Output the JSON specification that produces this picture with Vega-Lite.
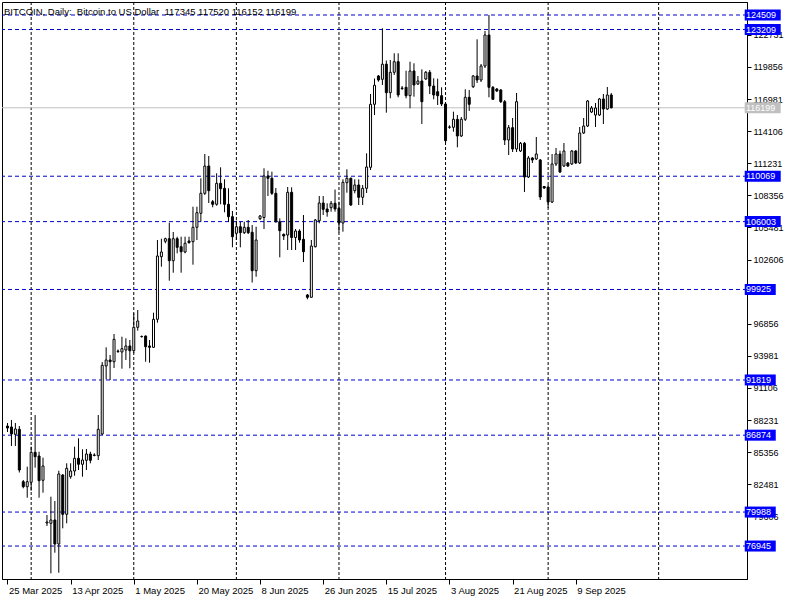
{
"$schema": "https://vega.github.io/schema/vega-lite/v6.json",
"width": 745, "height": 577,
"autosize": {"type": "none"},
"padding": {"left": 2, "top": 2, "right": 53, "bottom": 21},
"background": "white",
"title": {"text": "BITCOIN, Daily:\u00a0 Bitcoin to US Dollar\u00a0 117345 117520 116152 116199", "anchor": "start", "frame": "group", "orient": "top", "offset": -23, "baseline": "alphabetic", "dx": 2, "font": "Liberation Sans", "fontSize": 9.5, "fontWeight": "normal", "color": "black"},
"config": {"view": {"stroke": "black", "strokeWidth": 1}, "font": "Liberation Sans"},
"datasets": {
"months": [{"i": 6}, {"i": 32}, {"i": 58}, {"i": 84}, {"i": 111}, {"i": 137}, {"i": 165}],
"levels": [{"p": 124509}, {"p": 123209}, {"p": 110069}, {"p": 106003}, {"p": 99925}, {"p": 91819}, {"p": 86874}, {"p": 79988}, {"p": 76945}],
"bid": [{"p": 116199}],
"ohlc": [
{"i":0,"d":"2025-03-25","o":87696,"h":87965,"l":87159,"c":87517},
{"i":1,"d":"2025-03-26","o":87607,"h":88234,"l":85905,"c":86980},
{"i":2,"d":"2025-03-27","o":86953,"h":87965,"l":85905,"c":87427},
{"i":3,"d":"2025-03-28","o":87401,"h":87696,"l":83531,"c":83755},
{"i":4,"d":"2025-03-30","o":82707,"h":82859,"l":82116,"c":82259},
{"i":5,"d":"2025-03-31","o":82259,"h":84051,"l":81274,"c":82707},
{"i":6,"d":"2025-04-01","o":82653,"h":85842,"l":81901,"c":85340},
{"i":7,"d":"2025-04-02","o":85340,"h":88681,"l":83961,"c":84946},
{"i":8,"d":"2025-04-03","o":85009,"h":85394,"l":81274,"c":82797},
{"i":9,"d":"2025-04-04","o":82833,"h":84857,"l":81722,"c":84113},
{"i":10,"d":"2025-04-06","o":79008,"h":79724,"l":78739,"c":79097},
{"i":11,"d":"2025-04-07","o":78981,"h":81364,"l":74503,"c":79277},
{"i":12,"d":"2025-04-08","o":79277,"h":80978,"l":76348,"c":77127},
{"i":13,"d":"2025-04-09","o":77127,"h":83692,"l":74556,"c":83397},
{"i":14,"d":"2025-04-10","o":83307,"h":83397,"l":78533,"c":79787},
{"i":15,"d":"2025-04-11","o":79787,"h":84355,"l":78981,"c":83907},
{"i":16,"d":"2025-04-13","o":83155,"h":84355,"l":82976,"c":83666},
{"i":17,"d":"2025-04-14","o":83666,"h":85842,"l":83244,"c":84803},
{"i":18,"d":"2025-04-15","o":84803,"h":86594,"l":83755,"c":84266},
{"i":19,"d":"2025-04-16","o":84266,"h":85609,"l":83155,"c":84651},
{"i":20,"d":"2025-04-17","o":84624,"h":85636,"l":83755,"c":85188},
{"i":21,"d":"2025-04-18","o":85188,"h":85394,"l":84355,"c":84624},
{"i":22,"d":"2025-04-20","o":85054,"h":85251,"l":84982,"c":85099},
{"i":23,"d":"2025-04-21","o":85036,"h":88681,"l":84651,"c":87401},
{"i":24,"d":"2025-04-22","o":86980,"h":93429,"l":86890,"c":93133},
{"i":25,"d":"2025-04-23","o":93070,"h":94745,"l":91879,"c":93608},
{"i":26,"d":"2025-04-24","o":93608,"h":94056,"l":91816,"c":93455},
{"i":27,"d":"2025-04-25","o":93455,"h":95937,"l":92891,"c":95462},
{"i":28,"d":"2025-04-27","o":94369,"h":94548,"l":94235,"c":94414},
{"i":29,"d":"2025-04-28","o":94324,"h":95695,"l":92829,"c":94620},
{"i":30,"d":"2025-04-29","o":94503,"h":95551,"l":93608,"c":94862},
{"i":31,"d":"2025-04-30","o":94862,"h":95399,"l":92864,"c":94441},
{"i":32,"d":"2025-05-01","o":94441,"h":97791,"l":94235,"c":96537},
{"i":33,"d":"2025-05-02","o":96537,"h":98086,"l":96232,"c":97101},
{"i":34,"d":"2025-05-04","o":95695,"h":95803,"l":95623,"c":95713},
{"i":35,"d":"2025-05-05","o":95757,"h":95803,"l":93455,"c":94799},
{"i":36,"d":"2025-05-06","o":94862,"h":95399,"l":93366,"c":94745},
{"i":37,"d":"2025-05-07","o":94745,"h":97844,"l":94683,"c":97253},
{"i":38,"d":"2025-05-08","o":97253,"h":104356,"l":96948,"c":102923},
{"i":39,"d":"2025-05-09","o":102860,"h":104473,"l":101965,"c":103281},
{"i":40,"d":"2025-05-11","o":104239,"h":104562,"l":104061,"c":104473},
{"i":41,"d":"2025-05-12","o":104473,"h":105906,"l":100711,"c":102502},
{"i":42,"d":"2025-05-13","o":102502,"h":105073,"l":101427,"c":104473},
{"i":43,"d":"2025-05-14","o":104473,"h":104652,"l":103165,"c":103702},
{"i":44,"d":"2025-05-15","o":103756,"h":104652,"l":101427,"c":103308},
{"i":45,"d":"2025-05-16","o":103281,"h":104652,"l":103165,"c":104061},
{"i":46,"d":"2025-05-18","o":104267,"h":104652,"l":104043,"c":104114},
{"i":47,"d":"2025-05-19","o":104204,"h":107339,"l":102144,"c":105494},
{"i":48,"d":"2025-05-20","o":105494,"h":107339,"l":104356,"c":106802},
{"i":49,"d":"2025-05-21","o":106748,"h":109883,"l":105995,"c":108539},
{"i":50,"d":"2025-05-22","o":108539,"h":112059,"l":108387,"c":110984},
{"i":51,"d":"2025-05-23","o":110984,"h":111880,"l":107670,"c":108772},
{"i":52,"d":"2025-05-25","o":107787,"h":107939,"l":107285,"c":107554},
{"i":53,"d":"2025-05-26","o":107554,"h":110331,"l":107428,"c":109435},
{"i":54,"d":"2025-05-27","o":109435,"h":110868,"l":107554,"c":108951},
{"i":55,"d":"2025-05-28","o":108987,"h":109793,"l":106837,"c":107554},
{"i":56,"d":"2025-05-29","o":107554,"h":108987,"l":105995,"c":106443},
{"i":57,"d":"2025-05-30","o":106443,"h":106954,"l":103702,"c":104652},
{"i":58,"d":"2025-06-01","o":104956,"h":106085,"l":104356,"c":105547},
{"i":59,"d":"2025-06-02","o":105547,"h":105995,"l":103702,"c":105010},
{"i":60,"d":"2025-06-03","o":105010,"h":105995,"l":104894,"c":105494},
{"i":61,"d":"2025-06-04","o":105494,"h":106148,"l":104894,"c":105010},
{"i":62,"d":"2025-06-05","o":105046,"h":105700,"l":100549,"c":101607},
{"i":63,"d":"2025-06-06","o":101607,"h":105547,"l":101069,"c":104356},
{"i":64,"d":"2025-06-08","o":106264,"h":106595,"l":106148,"c":106506},
{"i":65,"d":"2025-06-09","o":106372,"h":110778,"l":105341,"c":110089},
{"i":66,"d":"2025-06-10","o":110089,"h":110563,"l":108297,"c":109883},
{"i":67,"d":"2025-06-11","o":109883,"h":110474,"l":108387,"c":108539},
{"i":68,"d":"2025-06-12","o":108539,"h":109014,"l":105906,"c":105995},
{"i":69,"d":"2025-06-13","o":105995,"h":106300,"l":102807,"c":105189},
{"i":70,"d":"2025-06-15","o":104867,"h":104938,"l":104356,"c":104714},
{"i":71,"d":"2025-06-16","o":104804,"h":109103,"l":103460,"c":108629},
{"i":72,"d":"2025-06-17","o":108629,"h":109077,"l":103460,"c":104580},
{"i":73,"d":"2025-06-18","o":104580,"h":105341,"l":103460,"c":105162},
{"i":74,"d":"2025-06-19","o":105162,"h":105315,"l":104114,"c":104356},
{"i":75,"d":"2025-06-20","o":104419,"h":106595,"l":102386,"c":103308},
{"i":76,"d":"2025-06-22","o":99430,"h":99519,"l":99045,"c":99224},
{"i":77,"d":"2025-06-23","o":99224,"h":104356,"l":99206,"c":103819},
{"i":78,"d":"2025-06-24","o":103756,"h":106237,"l":103684,"c":106148},
{"i":79,"d":"2025-06-25","o":106085,"h":108297,"l":105852,"c":107670},
{"i":80,"d":"2025-06-26","o":107670,"h":108297,"l":106595,"c":107106},
{"i":81,"d":"2025-06-27","o":107133,"h":107643,"l":106443,"c":106864},
{"i":82,"d":"2025-06-29","o":107249,"h":107849,"l":106891,"c":107643},
{"i":83,"d":"2025-06-30","o":107643,"h":108879,"l":106891,"c":107133},
{"i":84,"d":"2025-07-01","o":107195,"h":107787,"l":105028,"c":105879},
{"i":85,"d":"2025-07-02","o":105879,"h":109793,"l":105100,"c":109524},
{"i":86,"d":"2025-07-03","o":109489,"h":110689,"l":108593,"c":109883},
{"i":87,"d":"2025-07-04","o":109883,"h":109954,"l":107402,"c":107491},
{"i":88,"d":"2025-07-06","o":108772,"h":109793,"l":108539,"c":109283},
{"i":89,"d":"2025-07-07","o":109283,"h":109793,"l":107491,"c":108181},
{"i":90,"d":"2025-07-08","o":108181,"h":109283,"l":107491,"c":108987},
{"i":91,"d":"2025-07-09","o":108987,"h":112122,"l":108566,"c":110895},
{"i":92,"d":"2025-07-10","o":110868,"h":117433,"l":110626,"c":116511},
{"i":93,"d":"2025-07-11","o":116511,"h":118822,"l":115552,"c":118213},
{"i":94,"d":"2025-07-13","o":119046,"h":119135,"l":118535,"c":118687},
{"i":95,"d":"2025-07-14","o":118750,"h":123318,"l":118240,"c":120103},
{"i":96,"d":"2025-07-15","o":120103,"h":120434,"l":115759,"c":117550},
{"i":97,"d":"2025-07-16","o":117550,"h":120479,"l":117048,"c":119377},
{"i":98,"d":"2025-07-17","o":119377,"h":121079,"l":119135,"c":120327},
{"i":99,"d":"2025-07-18","o":120327,"h":121079,"l":117138,"c":117344},
{"i":100,"d":"2025-07-20","o":117926,"h":118150,"l":117792,"c":117971},
{"i":101,"d":"2025-07-21","o":118033,"h":119520,"l":117048,"c":117281},
{"i":102,"d":"2025-07-22","o":117281,"h":120327,"l":116153,"c":119494},
{"i":103,"d":"2025-07-23","o":119494,"h":120183,"l":117192,"c":118240},
{"i":104,"d":"2025-07-24","o":118329,"h":119046,"l":118240,"c":118598},
{"i":105,"d":"2025-07-25","o":118598,"h":119646,"l":114746,"c":116744},
{"i":106,"d":"2025-07-27","o":118777,"h":119494,"l":118687,"c":119377},
{"i":107,"d":"2025-07-28","o":119377,"h":119583,"l":117433,"c":118150},
{"i":108,"d":"2025-07-29","o":118150,"h":118840,"l":116959,"c":117344},
{"i":109,"d":"2025-07-30","o":117639,"h":118804,"l":116448,"c":117281},
{"i":110,"d":"2025-07-31","o":117281,"h":118033,"l":116359,"c":116538},
{"i":111,"d":"2025-08-01","o":116538,"h":116627,"l":113071,"c":113251},
{"i":112,"d":"2025-08-03","o":114451,"h":114630,"l":114325,"c":114478},
{"i":113,"d":"2025-08-04","o":114451,"h":115848,"l":114057,"c":115167},
{"i":114,"d":"2025-08-05","o":115167,"h":115552,"l":112659,"c":113671},
{"i":115,"d":"2025-08-06","o":113671,"h":115373,"l":113582,"c":115167},
{"i":116,"d":"2025-08-07","o":115167,"h":117855,"l":115015,"c":117138},
{"i":117,"d":"2025-08-08","o":117138,"h":117792,"l":115911,"c":116511},
{"i":118,"d":"2025-08-10","o":118087,"h":119135,"l":117971,"c":119046},
{"i":119,"d":"2025-08-11","o":119046,"h":122333,"l":118419,"c":118687},
{"i":120,"d":"2025-08-12","o":118687,"h":120121,"l":118508,"c":119941},
{"i":121,"d":"2025-08-13","o":119941,"h":123076,"l":119762,"c":122718},
{"i":122,"d":"2025-08-14","o":122718,"h":124509,"l":117138,"c":118033},
{"i":123,"d":"2025-08-15","o":118033,"h":118150,"l":116896,"c":116959},
{"i":124,"d":"2025-08-17","o":117881,"h":117971,"l":117613,"c":117702},
{"i":125,"d":"2025-08-18","o":117792,"h":117881,"l":116627,"c":116744},
{"i":126,"d":"2025-08-19","o":116744,"h":116896,"l":112865,"c":113313},
{"i":127,"d":"2025-08-20","o":113313,"h":114657,"l":111970,"c":114415},
{"i":128,"d":"2025-08-21","o":114415,"h":115284,"l":112238,"c":112507},
{"i":129,"d":"2025-08-22","o":112507,"h":117523,"l":112238,"c":116744},
{"i":130,"d":"2025-08-24","o":112328,"h":113134,"l":112238,"c":113018},
{"i":131,"d":"2025-08-25","o":113018,"h":113134,"l":108656,"c":109999},
{"i":132,"d":"2025-08-26","o":109999,"h":111880,"l":109910,"c":111701},
{"i":133,"d":"2025-08-27","o":111701,"h":111791,"l":111253,"c":111522},
{"i":134,"d":"2025-08-28","o":111611,"h":113582,"l":111522,"c":112059},
{"i":135,"d":"2025-08-29","o":111522,"h":111611,"l":107939,"c":108208},
{"i":136,"d":"2025-08-31","o":109148,"h":109193,"l":108924,"c":109014},
{"i":137,"d":"2025-09-01","o":109103,"h":109283,"l":107222,"c":107760},
{"i":138,"d":"2025-09-02","o":107760,"h":112059,"l":107670,"c":111164},
{"i":139,"d":"2025-09-03","o":111164,"h":112597,"l":110984,"c":112059},
{"i":140,"d":"2025-09-04","o":112059,"h":112355,"l":110357,"c":110447},
{"i":141,"d":"2025-09-05","o":110984,"h":113044,"l":110895,"c":112328},
{"i":142,"d":"2025-09-07","o":111253,"h":111343,"l":110895,"c":110984},
{"i":143,"d":"2025-09-08","o":111164,"h":112418,"l":111074,"c":112328},
{"i":144,"d":"2025-09-09","o":112328,"h":112418,"l":111164,"c":111253},
{"i":145,"d":"2025-09-10","o":111253,"h":114478,"l":111164,"c":113940},
{"i":146,"d":"2025-09-11","o":113940,"h":115284,"l":113851,"c":114567},
{"i":147,"d":"2025-09-12","o":114567,"h":116896,"l":114478,"c":116806},
{"i":148,"d":"2025-09-14","o":115821,"h":116359,"l":115732,"c":116179},
{"i":149,"d":"2025-09-15","o":115552,"h":116627,"l":114478,"c":116179},
{"i":150,"d":"2025-09-16","o":115552,"h":117075,"l":115463,"c":116986},
{"i":151,"d":"2025-09-17","o":116986,"h":117433,"l":114746,"c":116090},
{"i":152,"d":"2025-09-18","o":116090,"h":118060,"l":116000,"c":117344},
{"i":153,"d":"2025-09-19","o":117345,"h":117520,"l":116152,"c":116199}
]
},
"layer": [
{"data": {"name": "months"},
 "mark": {"type": "rule", "color": "black", "strokeWidth": 1, "strokeDash": [3, 2]},
 "encoding": {"x": {"field": "i", "type": "quantitative", "title": null,
   "scale": {"domain": [-0.125, 186.125], "nice": false, "zero": false},
   "axis": {"values": [0, 16, 32, 48, 64, 80, 96, 112, 128, 144],
     "labelExpr": "['25 Mar 2025','13 Apr 2025','1 May 2025','20 May 2025','8 Jun 2025','26 Jun 2025','15 Jul 2025','3 Aug 2025','21 Aug 2025','9 Sep 2025'][round(datum.value/16)]",
     "grid": false, "tickSize": 5, "tickColor": "black", "domainColor": "black", "labelColor": "black",
     "labelFont": "Liberation Sans", "labelFontSize": 9.5, "labelAlign": "left", "labelBaseline": "top",
     "labelPadding": 1, "labelOffset": 1, "labelOverlap": false, "labelFlush": false, "labelBound": false, "title": null}}}},
{"data": {"name": "levels"},
 "mark": {"type": "rule", "color": "#0000CD", "strokeWidth": 1, "strokeDash": [4, 3]},
 "encoding": {"y": {"field": "p", "type": "quantitative", "title": null,
   "scale": {"domain": [73992, 125674], "nice": false, "zero": false},
   "axis": {"orient": "right", "values": [122731, 119856, 116981, 114106, 111231, 108356, 105481, 102606, 96856, 93981, 91106, 88231, 85356, 82481, 79606],
     "format": "d", "grid": false, "tickSize": 4, "tickColor": "black", "domainColor": "black", "labelColor": "black",
     "labelFont": "Liberation Sans", "labelFontSize": 9, "labelAlign": "left", "labelBaseline": "middle",
     "labelPadding": 2, "labelOverlap": false, "labelFlush": false, "labelBound": false, "title": null}}}},
{"data": {"name": "bid"},
 "mark": {"type": "rule", "color": "#C0C0C0", "strokeWidth": 1},
 "encoding": {"y": {"field": "p", "type": "quantitative", "title": null}}},
{"data": {"name": "ohlc"},
 "mark": {"type": "rule", "color": "black", "strokeWidth": 1},
 "encoding": {"x": {"field": "i", "type": "quantitative", "title": null},
   "y": {"field": "l", "type": "quantitative", "title": null}, "y2": {"field": "h"}}},
{"data": {"name": "ohlc"},
 "mark": {"type": "bar", "size": 2, "stroke": "black", "strokeWidth": 1},
 "encoding": {"x": {"field": "i", "type": "quantitative", "title": null},
   "y": {"field": "o", "type": "quantitative", "title": null}, "y2": {"field": "c"},
   "fill": {"condition": {"test": "datum.c >= datum.o", "value": "white"}, "value": "black"}}},
{"data": {"name": "levels"}, "transform": [{"filter": "datum.p >= 100000"}],
 "mark": {"type": "tick", "orient": "horizontal", "size": 36, "thickness": 11, "color": "#0000FF", "opacity": 1},
 "encoding": {"x": {"datum": 191.375, "type": "quantitative"}, "y": {"field": "p", "type": "quantitative", "title": null}}},
{"data": {"name": "levels"}, "transform": [{"filter": "datum.p < 100000"}],
 "mark": {"type": "tick", "orient": "horizontal", "size": 31, "thickness": 11, "color": "#0000FF", "opacity": 1},
 "encoding": {"x": {"datum": 190.75, "type": "quantitative"}, "y": {"field": "p", "type": "quantitative", "title": null}}},
{"data": {"name": "bid"},
 "mark": {"type": "tick", "orient": "horizontal", "size": 36, "thickness": 11, "color": "#C0C0C0", "opacity": 1},
 "encoding": {"x": {"datum": 191.375, "type": "quantitative"}, "y": {"field": "p", "type": "quantitative", "title": null}}},
{"data": {"name": "levels"},
 "mark": {"type": "text", "align": "left", "baseline": "middle", "color": "white", "font": "Liberation Sans", "fontSize": 9},
 "encoding": {"x": {"datum": 187.125, "type": "quantitative"}, "y": {"field": "p", "type": "quantitative", "title": null},
   "text": {"field": "p", "type": "quantitative", "format": "d"}}},
{"data": {"name": "bid"},
 "mark": {"type": "text", "align": "left", "baseline": "middle", "color": "white", "font": "Liberation Sans", "fontSize": 9},
 "encoding": {"x": {"datum": 187.125, "type": "quantitative"}, "y": {"field": "p", "type": "quantitative", "title": null},
   "text": {"field": "p", "type": "quantitative", "format": "d"}}}
]
}
